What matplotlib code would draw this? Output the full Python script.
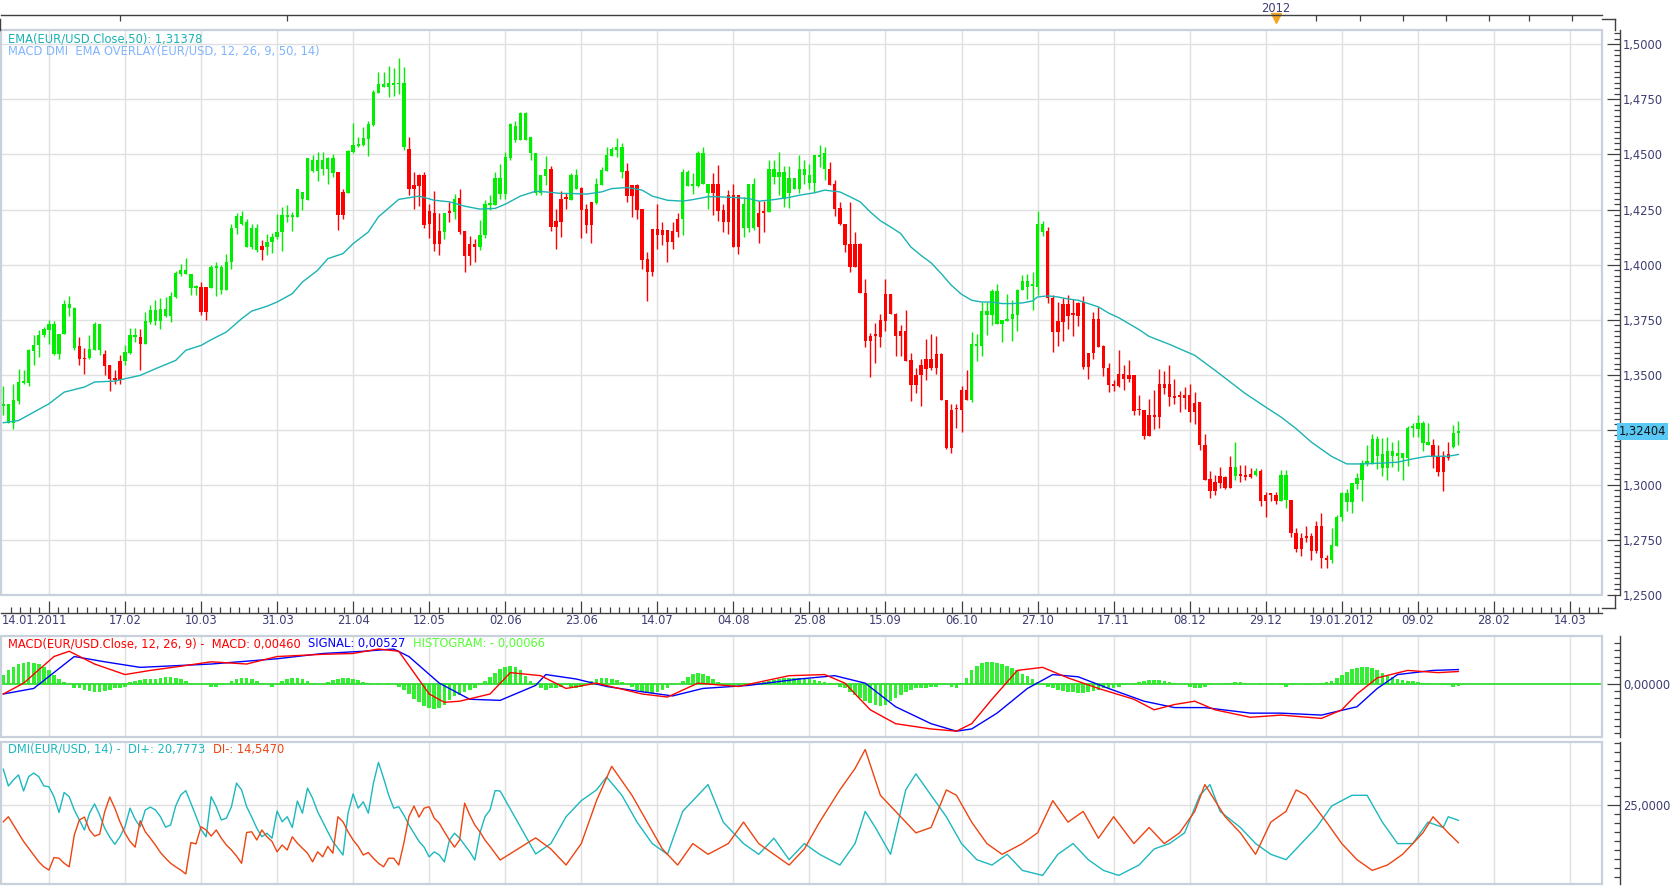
import matplotlib
matplotlib.use("Agg")
import matplotlib.pyplot as plt
from matplotlib.lines import Line2D
from matplotlib.patches import Rectangle
from matplotlib.ticker import FixedLocator, FuncFormatter, MultipleLocator
import numpy as np

# EUR/USD daily candles, 14.01.2011 .. 17.02.2012
opens = [
    1.3358, 1.3282, 1.3280, 1.3380, 1.3464, 1.3464, 1.3608, 1.3633, 1.3679, 1.3703,
    1.3595, 1.3595, 1.3686, 1.3805, 1.3623, 1.3629, 1.3577, 1.3577, 1.3614, 1.3614,
    1.3595, 1.3542, 1.3483, 1.3562, 1.3562, 1.3598, 1.3671, 1.3671, 1.3638, 1.3739,
    1.3744, 1.3744, 1.3765, 1.3765, 1.3853, 1.3956, 1.3956, 1.3895, 1.3895, 1.3898,
    1.3898, 1.3895, 1.3986, 1.3886, 1.3886, 1.4012, 1.4164, 1.4186, 1.4080, 1.4080,
    1.4065, 1.4083, 1.4080, 1.4103, 1.4123, 1.4148, 1.4217, 1.4217, 1.4217, 1.4300,
    1.4295, 1.4426, 1.4426, 1.4432, 1.4432, 1.4417, 1.4420, 1.4330, 1.4326, 1.4509,
    1.4538, 1.4542, 1.4568, 1.4633, 1.4780, 1.4807, 1.4807, 1.4815, 1.4818, 1.4532,
    1.4527, 1.4360, 1.4406, 1.4406, 1.4244, 1.4236, 1.4153, 1.4149, 1.4244, 1.4239,
    1.4303, 1.4152, 1.4095, 1.4095, 1.4080, 1.4133, 1.4270, 1.4270, 1.4320, 1.4320,
    1.4485, 1.4565, 1.4565, 1.4565, 1.4505, 1.4326, 1.4326, 1.4403, 1.4433, 1.4197,
    1.4297, 1.4303, 1.4295, 1.4341, 1.4349, 1.4254, 1.4285, 1.4280, 1.4361, 1.4426,
    1.4494, 1.4520, 1.4421, 1.4424, 1.4361, 1.4361, 1.4252, 1.4024, 1.4161, 1.4161,
    1.4156, 1.4156, 1.4152, 1.4206, 1.4205, 1.4358, 1.4358, 1.4358, 1.4364, 1.4327,
    1.4368, 1.4368, 1.4247, 1.4315, 1.4315, 1.4315, 1.4168, 1.4168, 1.4168, 1.4232,
    1.4242, 1.4239, 1.4398, 1.4398, 1.4300, 1.4326, 1.4345, 1.4345, 1.4406, 1.4371,
    1.4371, 1.4489, 1.4433, 1.4436, 1.4365, 1.4255, 1.4186, 1.4092, 1.4092, 1.4092,
    1.3873, 1.3674, 1.3679, 1.3747, 1.3868, 1.3868, 1.3777, 1.3697, 1.3697, 1.3565,
    1.3500, 1.3546, 1.3573, 1.3573, 1.3592, 1.3592, 1.3386, 1.3341, 1.3346, 1.3432,
    1.3432, 1.3386, 1.3630, 1.3630, 1.3770, 1.3770, 1.3729, 1.3729, 1.3744, 1.3752,
    1.3770, 1.3883, 1.3899, 1.3903, 1.3899, 1.4149, 1.4152, 1.3850, 1.3742, 1.3820,
    1.3820, 1.3774, 1.3827, 1.3830, 1.3600, 1.3752, 1.3752, 1.3629, 1.3532, 1.3455,
    1.3505, 1.3505, 1.3497, 1.3497, 1.3341, 1.3338, 1.3315, 1.3315, 1.3456, 1.3456,
    1.3456, 1.3402, 1.3402, 1.3406, 1.3406, 1.3373, 1.3376, 1.3183, 1.3027, 1.3012,
    1.3038, 1.3035, 1.3080, 1.3040, 1.3047, 1.3042, 1.3050, 1.3046, 1.3061, 1.2956,
    1.2956, 1.2956, 1.2926, 1.2932, 1.2932, 1.2782, 1.2759, 1.2768, 1.2768, 1.2811,
    1.2811, 1.2668, 1.2659, 1.2724, 1.2853, 1.2921, 1.2921, 1.3005, 1.3024, 1.3100,
    1.3100, 1.3133, 1.3076, 1.3076, 1.3133, 1.3133, 1.3121, 1.3121, 1.3258, 1.3252,
    1.3189, 1.3179, 1.3183, 1.3129, 1.3126, 1.3138, 1.3171, 1.3236,
]
highs = [
    1.3451, 1.3368, 1.3459, 1.3527, 1.3520, 1.3618, 1.3679, 1.3701, 1.3717, 1.3750,
    1.3744, 1.3686, 1.3841, 1.3856, 1.3808, 1.3671, 1.3623, 1.3682, 1.3739, 1.3729,
    1.3614, 1.3542, 1.3520, 1.3588, 1.3633, 1.3714, 1.3714, 1.3709, 1.3785, 1.3815,
    1.3838, 1.3850, 1.3853, 1.3876, 1.3970, 1.4001, 1.4032, 1.3959, 1.3906, 1.3920,
    1.3898, 1.3997, 1.4012, 1.3997, 1.4050, 1.4183, 1.4232, 1.4242, 1.4209, 1.4186,
    1.4186, 1.4111, 1.4141, 1.4144, 1.4229, 1.4262, 1.4270, 1.4239, 1.4341, 1.4330,
    1.4482, 1.4497, 1.4512, 1.4512, 1.4489, 1.4501, 1.4420, 1.4345, 1.4520, 1.4641,
    1.4580, 1.4623, 1.4653, 1.4792, 1.4876, 1.4876, 1.4901, 1.4891, 1.4936, 1.4898,
    1.4580, 1.4421, 1.4411, 1.4421, 1.4274, 1.4335, 1.4236, 1.4235, 1.4282, 1.4320,
    1.4342, 1.4152, 1.4130, 1.4118, 1.4202, 1.4295, 1.4315, 1.4421, 1.4456, 1.4512,
    1.4641, 1.4653, 1.4694, 1.4694, 1.4580, 1.4507, 1.4406, 1.4492, 1.4447, 1.4254,
    1.4333, 1.4327, 1.4418, 1.4436, 1.4353, 1.4277, 1.4285, 1.4391, 1.4441, 1.4532,
    1.4535, 1.4573, 1.4550, 1.4459, 1.4361, 1.4365, 1.4252, 1.4055, 1.4161, 1.4277,
    1.4194, 1.4156, 1.4194, 1.4232, 1.4432, 1.4429, 1.4414, 1.4517, 1.4535, 1.4368,
    1.4414, 1.4452, 1.4277, 1.4338, 1.4368, 1.4315, 1.4308, 1.4368, 1.4395, 1.4289,
    1.4288, 1.4474, 1.4474, 1.4512, 1.4447, 1.4447, 1.4391, 1.4497, 1.4477, 1.4456,
    1.4497, 1.4542, 1.4535, 1.4467, 1.4383, 1.4285, 1.4186, 1.4285, 1.4149, 1.4098,
    1.3933, 1.3689, 1.3735, 1.3777, 1.3933, 1.3868, 1.3780, 1.3724, 1.3792, 1.3599,
    1.3532, 1.3573, 1.3664, 1.3683, 1.3674, 1.3599, 1.3386, 1.3365, 1.3365, 1.3447,
    1.3523, 1.3694, 1.3683, 1.3830, 1.3830, 1.3891, 1.3911, 1.3747, 1.3865, 1.3838,
    1.3891, 1.3952, 1.3956, 1.3967, 1.4242, 1.4199, 1.4171, 1.3864, 1.3830, 1.3850,
    1.3864, 1.3846, 1.3830, 1.3858, 1.3600, 1.3785, 1.3808, 1.3636, 1.3553, 1.3477,
    1.3611, 1.3543, 1.3565, 1.3497, 1.3406, 1.3338, 1.3391, 1.3432, 1.3527, 1.3517,
    1.3543, 1.3482, 1.3424, 1.3444, 1.3456, 1.3421, 1.3376, 1.3232, 1.3061, 1.3047,
    1.3080, 1.3042, 1.3129, 1.3194, 1.3092, 1.3092, 1.3077, 1.3077, 1.3073, 1.2967,
    1.2962, 1.2967, 1.3068, 1.3068, 1.2932, 1.2805, 1.2782, 1.2815, 1.2782, 1.2838,
    1.2874, 1.2683, 1.2805, 1.2864, 1.2967, 1.2982, 1.3008, 1.3053, 1.3114, 1.3179,
    1.3229, 1.3220, 1.3214, 1.3217, 1.3194, 1.3202, 1.3144, 1.3265, 1.3280, 1.3315,
    1.3289, 1.3280, 1.3209, 1.3183, 1.3156, 1.3194, 1.3270, 1.3288,
]
lows = [
    1.3315, 1.3280, 1.3255, 1.3368, 1.3459, 1.3448, 1.3542, 1.3580, 1.3671, 1.3641,
    1.3588, 1.3570, 1.3683, 1.3765, 1.3614, 1.3542, 1.3505, 1.3573, 1.3611, 1.3588,
    1.3497, 1.3426, 1.3459, 1.3459, 1.3542, 1.3595, 1.3648, 1.3520, 1.3638, 1.3732,
    1.3724, 1.3709, 1.3762, 1.3739, 1.3850, 1.3947, 1.3956, 1.3861, 1.3861, 1.3770,
    1.3750, 1.3895, 1.3856, 1.3865, 1.3886, 1.3982, 1.4141, 1.4179, 1.4080, 1.4073,
    1.4058, 1.4020, 1.4042, 1.4053, 1.4118, 1.4062, 1.4194, 1.4153, 1.4214, 1.4247,
    1.4292, 1.4421, 1.4380, 1.4406, 1.4368, 1.4398, 1.4156, 1.4209, 1.4323, 1.4507,
    1.4535, 1.4538, 1.4492, 1.4629, 1.4777, 1.4807, 1.4759, 1.4765, 1.4774, 1.4520,
    1.4315, 1.4254, 1.4265, 1.4168, 1.4121, 1.4062, 1.4042, 1.4115, 1.4194, 1.4205,
    1.4138, 1.3967, 1.3997, 1.4012, 1.4065, 1.4121, 1.4247, 1.4270, 1.4300, 1.4300,
    1.4474, 1.4558, 1.4565, 1.4565, 1.4474, 1.4315, 1.4315, 1.4361, 1.4153, 1.4070,
    1.4126, 1.4252, 1.4292, 1.4341, 1.4121, 1.4144, 1.4099, 1.4277, 1.4361, 1.4426,
    1.4494, 1.4489, 1.4394, 1.4282, 1.4217, 1.4205, 1.3982, 1.3835, 1.3949, 1.4070,
    1.4091, 1.4012, 1.4073, 1.4126, 1.4133, 1.4358, 1.4320, 1.4350, 1.4364, 1.4252,
    1.4224, 1.4200, 1.4149, 1.4138, 1.4080, 1.4050, 1.4126, 1.4149, 1.4156, 1.4099,
    1.4149, 1.4239, 1.4368, 1.4315, 1.4262, 1.4259, 1.4342, 1.4323, 1.4368, 1.4341,
    1.4330, 1.4444, 1.4383, 1.4361, 1.4221, 1.4179, 1.4058, 1.3967, 1.3989, 1.3871,
    1.3626, 1.3489, 1.3553, 1.3626, 1.3699, 1.3774, 1.3585, 1.3585, 1.3562, 1.3380,
    1.3417, 1.3356, 1.3477, 1.3523, 1.3502, 1.3386, 1.3164, 1.3144, 1.3258, 1.3240,
    1.3386, 1.3376, 1.3562, 1.3583, 1.3679, 1.3724, 1.3729, 1.3649, 1.3744, 1.3653,
    1.3699, 1.3883, 1.3846, 1.3792, 1.3864, 1.4129, 1.3826, 1.3603, 1.3629, 1.3653,
    1.3706, 1.3676, 1.3721, 1.3527, 1.3482, 1.3573, 1.3626, 1.3492, 1.3421, 1.3426,
    1.3444, 1.3429, 1.3467, 1.3315, 1.3315, 1.3206, 1.3221, 1.3255, 1.3259, 1.3414,
    1.3356, 1.3368, 1.3330, 1.3346, 1.3285, 1.3277, 1.3159, 1.3020, 1.2940, 1.2952,
    1.2986, 1.2979, 1.2985, 1.3020, 1.3012, 1.3020, 1.3032, 1.3040, 1.2906, 1.2853,
    1.2929, 1.2911, 1.2926, 1.2896, 1.2765, 1.2694, 1.2676, 1.2740, 1.2659, 1.2689,
    1.2621, 1.2621, 1.2644, 1.2724, 1.2835, 1.2883, 1.2871, 1.2982, 1.2926, 1.3085,
    1.3095, 1.3073, 1.3040, 1.3020, 1.3080, 1.3062, 1.3024, 1.3085, 1.3217, 1.3217,
    1.3153, 1.3179, 1.3076, 1.3040, 1.2971, 1.3114, 1.3167, 1.3183,
]
closes = [
    1.3368, 1.3368, 1.3383, 1.3467, 1.3470, 1.3611, 1.3633, 1.3679, 1.3708, 1.3729,
    1.3729, 1.3686, 1.3823, 1.3823, 1.3805, 1.3570, 1.3570, 1.3618, 1.3732, 1.3729,
    1.3539, 1.3482, 1.3474, 1.3477, 1.3601, 1.3679, 1.3679, 1.3641, 1.3742, 1.3792,
    1.3792, 1.3800, 1.3800, 1.3856, 1.3962, 1.3977, 1.3977, 1.3959, 1.3898, 1.3785,
    1.3785, 1.3989, 1.3989, 1.3989, 1.4012, 1.4164, 1.4220, 1.4220, 1.4194, 1.4168,
    1.4168, 1.4068, 1.4103, 1.4123, 1.4148, 1.4224, 1.4224, 1.4220, 1.4341, 1.4330,
    1.4482, 1.4477, 1.4474, 1.4474, 1.4482, 1.4482, 1.4224, 1.4224, 1.4515, 1.4542,
    1.4547, 1.4573, 1.4638, 1.4785, 1.4820, 1.4820, 1.4823, 1.4823, 1.4823, 1.4823,
    1.4345, 1.4345, 1.4356, 1.4182, 1.4183, 1.4093, 1.4093, 1.4235, 1.4232, 1.4300,
    1.4149, 1.4039, 1.4039, 1.4080, 1.4136, 1.4277, 1.4277, 1.4391, 1.4391, 1.4489,
    1.4636, 1.4629, 1.4689, 1.4689, 1.4580, 1.4507, 1.4406, 1.4433, 1.4171, 1.4171,
    1.4194, 1.4297, 1.4406, 1.4406, 1.4250, 1.4179, 1.4179, 1.4365, 1.4429, 1.4497,
    1.4524, 1.4532, 1.4532, 1.4312, 1.4312, 1.4250, 1.4023, 1.3967, 1.3967, 1.4133,
    1.4133, 1.4103, 1.4103, 1.4149, 1.4421, 1.4421, 1.4368, 1.4508, 1.4508, 1.4365,
    1.4327, 1.4244, 1.4194, 1.4194, 1.4080, 1.4080, 1.4277, 1.4368, 1.4368, 1.4171,
    1.4232, 1.4436, 1.4436, 1.4421, 1.4421, 1.4391, 1.4391, 1.4436, 1.4436, 1.4406,
    1.4497, 1.4497, 1.4505, 1.4361, 1.4252, 1.4183, 1.4088, 1.3989, 1.3989, 1.3871,
    1.3652, 1.3653, 1.3676, 1.3671, 1.3744, 1.3774, 1.3676, 1.3676, 1.3562, 1.3452,
    1.3452, 1.3497, 1.3524, 1.3532, 1.3532, 1.3386, 1.3168, 1.3168, 1.3343, 1.3341,
    1.3386, 1.3638, 1.3638, 1.3788, 1.3788, 1.3879, 1.3879, 1.3747, 1.3755, 1.3774,
    1.3886, 1.3924, 1.3924, 1.3906, 1.4183, 1.4183, 1.3850, 1.3694, 1.3694, 1.3739,
    1.3767, 1.3770, 1.3767, 1.3535, 1.3535, 1.3600, 1.3626, 1.3530, 1.3452, 1.3449,
    1.3449, 1.3479, 1.3479, 1.3335, 1.3338, 1.3221, 1.3221, 1.3308, 1.3308, 1.3440,
    1.3399, 1.3396, 1.3399, 1.3394, 1.3330, 1.3330, 1.3182, 1.3023, 1.2971, 1.2971,
    1.3008, 1.2985, 1.2985, 1.3080, 1.3042, 1.3035, 1.3035, 1.3061, 1.2929, 1.2929,
    1.2955, 1.2926, 1.3047, 1.3047, 1.2780, 1.2709, 1.2709, 1.2759, 1.2699, 1.2699,
    1.2667, 1.2659, 1.2729, 1.2856, 1.2962, 1.2962, 1.3008, 1.3030, 1.3100, 1.3106,
    1.3209, 1.3209, 1.3138, 1.3156, 1.3156, 1.3145, 1.3144, 1.3258, 1.3262, 1.3280,
    1.3280, 1.3194, 1.3126, 1.3058, 1.3058, 1.3121, 1.3236, 1.3240,
]

# EMA(50) overlay, sampled along the line (candle index, price)
ema_idx = [0, 3, 6, 9, 12, 16, 18, 22, 24, 27, 30, 34, 36, 39, 41, 44, 47, 49, 52, 54,
           57, 59, 62, 64, 67, 69, 72, 74, 78, 82, 85, 88, 91, 94, 97, 99, 102, 105, 107, 110,
           112, 115, 118, 120, 123, 126, 128, 131, 134, 136, 139, 141, 144, 147, 149, 152, 155, 157, 160,
           162, 165, 167, 169, 171, 173, 175, 177, 179, 181, 183, 185, 187, 189, 191, 193, 195, 197, 199,
           201, 203, 204, 206, 208, 210, 212, 214, 216, 218, 220, 222, 224, 226, 228, 230, 232,
           235, 239, 242, 245, 249, 252, 255, 258, 262, 265, 268, 272, 275, 278, 281, 285, 287]
ema_val = [1.3282, 1.3292, 1.3330, 1.3368, 1.3421, 1.3444, 1.3467, 1.3471, 1.3482, 1.3497,
           1.3527, 1.3565, 1.3611, 1.3633, 1.3659, 1.3694, 1.3754, 1.3789, 1.3811, 1.3830,
           1.3868, 1.3921, 1.3974, 1.4027, 1.4050, 1.4095, 1.4148, 1.4217, 1.4296, 1.4311,
           1.4292, 1.4285, 1.4265, 1.4252, 1.4255, 1.4274, 1.4311, 1.4333, 1.4330, 1.4323,
           1.4323, 1.4320, 1.4330, 1.4345, 1.4350, 1.4338, 1.4311, 1.4292, 1.4288, 1.4295,
           1.4308, 1.4308, 1.4305, 1.4300, 1.4288, 1.4295, 1.4305, 1.4315, 1.4326,
           1.4338, 1.4330, 1.4308, 1.4285, 1.4239, 1.4199, 1.4171, 1.4141, 1.4080, 1.4042,
           1.4008, 1.3959, 1.3906, 1.3865, 1.3838, 1.3830, 1.3830, 1.3823, 1.3823, 1.3826,
           1.3835, 1.3853, 1.3858, 1.3853, 1.3844, 1.3838, 1.3823, 1.3808, 1.3780, 1.3759,
           1.3732, 1.3705, 1.3674, 1.3656, 1.3638, 1.3618,
           1.3588, 1.3520, 1.3467, 1.3414, 1.3353, 1.3308, 1.3255, 1.3194, 1.3129, 1.3095,
           1.3095, 1.3099, 1.3103, 1.3118, 1.3130, 1.3130, 1.3138]

# MACD(12,26,9), in units of 1e-4
macd_idx = [0, 4, 10, 13, 18, 24, 29, 35, 41, 48, 54, 63, 69, 74, 78, 84, 87, 90, 96, 100,
            106, 111, 117, 126, 131, 137, 145, 155, 162, 166, 171, 176, 183, 188, 191, 195, 200, 205, 210, 216,
            223, 227, 231, 235, 239, 246, 252, 260, 264, 267, 271, 277, 283, 287]
macd_val = [-35, 4, 100, 119, 73, 35, 50, 65, 81, 73, 100, 108, 111, 127, 119, -35, -65, -61, -35, 42,
            31, -15, 4, -35, -46, 4, -8, 31, 35, 4, -92, -142, -161, -169, -142, -54, 50, 61, 23, -15,
            -54, -92, -73, -61, -92, -119, -111, -123, -92, -35, 23, 50, 42, 46]
signal_idx = [0, 6, 14, 20, 27, 41, 54, 63, 71, 77, 80, 86, 92, 98, 105, 107, 113, 119, 126, 132,
              138, 147, 157, 164, 170, 176, 183, 188, 191, 196, 202, 207, 212, 218, 225, 231, 237, 246, 252, 260,
              267, 271, 275, 282, 287]
signal_val = [-35, -15, 100, 81, 61, 73, 92, 111, 119, 127, 100, 4, -54, -58, -4, 35, 19, -8, -27, -42,
              -15, -4, 19, 31, 4, -81, -142, -169, -161, -104, -15, 35, 27, -15, -61, -84, -84, -104, -104, -111,
              -81, -15, 35, 50, 53]
histogram = [35, 50, 61, 73, 77, 81, 77, 73, 61, 50, 35, 19, 8, 0,
             -12, -15, -19, -23, -27, -27, -23, -19, -15, -12, -8,
             8, 12, 15, 19, 19, 19, 23, 27, 27, 23, 19, 12, 4, 0, 0, 0,
             -8, -8, -4, 0, 12, 19, 23, 23, 19, 12, 4, 0, -8, -4,
             12, 19, 23, 23, 19, 12, 4, 0, 0,
             8, 15, 19, 23, 23, 19, 15, 8, 4, 0,
             -4, 0, 4, 0, -8, -19,
             -35, -54, -65, -77, -84, -88, -84, -73, -58, -42, -38, -27, -19, -12, -4,
             12, 27, 42, 54, 61, 65, 61, 50, 31, 12,
             -4, -15, -19, -15, -12, -8, -4, -8, -12, -8, 0,
             12, 19, 23, 23, 19, 15, 8, 0, -8, -19,
             -27, -31, -31, -27, -19, -12, -4, 0,
             12, 27, 38, 42, 38, 31, 19, 8, 0,
             -4, -8, -4, 0, 0, 4, 4, 8, 12,
             15, 19, 23, 23, 23, 23, 19, 19, 15, 12, 8, 4, 0,
             -8, -15, -27, -38, -50, -61, -69, -73, -77, -73, -61, -50, -38, -27,
             -19, -15, -12, -12, -8, -8, -4, -4, -8, -12,
             4, 23, 50, 65, 77, 81, 81, 77, 73, 65, 58, 50, 38,
             31, 19, 8, 0, -8, -15, -19, -23,
             -27, -27, -31, -31, -27, -23, -19, -15, -15, -12, -8, -4, 0,
             4, 8, 12, 15, 15, 15, 12, 8,
             4, 0, -4, -8, -12, -12, -8, -4, 0, 0, 4,
             4, 8, 8, 4, 0, 0, -4, 0, 4, 0,
             -4, -8, -4, 0, 0, -4, -4, 0, 4, 8, 12,
             23, 35, 46, 54, 58, 61, 61, 58, 50, 42, 35, 27, 19,
             15, 12, 12, 8, 4, 4, 0, 0, -4, -4, -8, -7]

# DMI(14)
di_plus = [35.1, 30.4, 32.1, 33.5, 29.0, 33.0, 34.0, 33.0, 30.4, 30.2,
           27.4, 23.0, 28.6, 27.4, 23.7, 20.9, 18.1, 22.8, 25.4, 22.3,
           18.6, 16.1, 14.1, 16.2, 19.0, 24.2, 21.1, 19.0, 23.7, 24.5,
           23.7, 21.8, 18.9, 19.5, 24.8, 27.9, 29.1, 25.6, 22.0, 18.3,
           16.2, 27.4, 24.6, 20.9, 21.4, 24.6, 31.2, 29.3, 24.6, 21.7,
           18.6, 16.2, 17.2, 15.8, 23.4, 20.4, 21.8, 18.8, 26.2, 22.8,
           29.8, 27.0, 23.2, 20.4, 17.6, 14.9, 13.0, 11.1, 22.8, 28.2,
           24.2, 26.0, 22.8, 31.2, 37.0, 32.6, 27.9, 24.2, 24.6, 22.3,
           19.5, 17.2, 14.9, 13.3, 10.6, 12.0, 11.1, 9.2, 15.3, 17.2,
           15.8, 13.9, 12.0, 9.7, 17.2, 21.8, 23.7, 29.1, 29.0,
           11.4, 14.3, 21.8, 26.3, 29.3, 32.9, 27.8, 20.3, 14.3, 11.3,
           23.3, 27.8, 30.8, 20.3, 14.3, 11.3, 15.8, 9.8, 14.3, 11.3,
           8.3, 14.3, 23.3, 18.8, 11.3, 29.3, 33.8, 27.8, 21.8, 14.3,
           9.8, 8.3, 11.3, 6.8, 5.4, 11.3, 14.3, 9.8, 6.8, 5.4,
           8.3, 12.8, 14.3, 17.3, 27.8, 30.8, 23.3, 18.8, 14.3, 11.3,
           9.8, 14.3, 18.8, 24.8, 27.8, 27.8, 20.3, 14.3, 14.3, 20.3,
           18.8, 21.8, 20.8]
di_plus_idx = list(range(99)) + [
    105, 108, 111, 114, 117, 119, 122, 125, 128, 131,
    134, 137, 139, 142, 146, 149, 152, 155, 158, 161,
    165, 168, 170, 172, 175, 178, 180, 183, 186, 189,
    192, 195, 198, 201, 205, 208, 211, 214, 217, 220,
    224, 227, 230, 233, 236, 238, 240, 244, 247, 250,
    253, 256, 259, 262, 266, 269, 272, 275, 278, 281,
    284, 285, 287]
di_minus = [20.4, 21.8, 19.5, 17.2, 14.9, 13.0, 11.1, 9.2, 7.8, 6.9,
            10.4, 10.2, 8.8, 7.8, 16.7, 20.9, 21.7, 18.1, 16.4, 16.9,
            23.2, 27.3, 24.2, 20.4, 17.2, 14.9, 13.3, 20.7, 17.6, 15.8,
            13.9, 11.8, 10.2, 8.8, 7.8, 6.9, 5.8, 14.6, 14.2, 19.0,
            18.1, 16.4, 18.1, 15.8, 13.9, 12.5, 10.8, 8.8, 17.4, 17.6,
            15.3, 18.1, 16.2, 14.9, 12.0, 13.9, 12.5, 16.2, 14.4, 13.0,
            11.6, 9.2, 12.0, 10.6, 13.5, 11.6, 21.8, 20.4, 17.6, 15.3,
            13.5, 11.1, 11.8, 10.2, 8.8, 7.8, 10.2, 10.2, 8.3, 14.4,
            21.8, 24.8, 21.7, 24.2, 24.6, 21.4, 20.0, 17.6, 15.3, 13.3,
            15.3, 25.6, 22.3, 19.5, 17.6, 15.3, 13.5, 11.6, 9.7,
            15.9, 12.8, 8.3, 14.3, 26.3, 35.9, 27.8, 20.3, 12.8, 8.3,
            14.3, 11.3, 14.3, 20.3, 14.3, 11.3, 8.3, 12.8, 20.3, 29.3,
            35.3, 40.6, 27.8, 23.3, 17.3, 18.8, 29.3, 27.8, 20.3, 14.3,
            11.3, 14.3, 17.3, 26.3, 20.3, 23.3, 15.8, 21.8, 14.3, 18.8,
            14.3, 17.3, 23.3, 30.8, 21.8, 17.3, 11.3, 20.3, 23.3, 29.3,
            27.8, 20.3, 14.3, 9.8, 6.8, 8.3, 11.3, 17.3, 21.8, 18.8,
            17.3, 14.55]
di_minus_idx = list(range(99)) + [
    105, 108, 111, 114, 117, 120, 124, 127, 130, 133,
    136, 139, 143, 146, 149, 152, 155, 158, 161, 165,
    168, 170, 173, 176, 180, 183, 186, 188, 191, 194,
    197, 201, 204, 207, 210, 213, 216, 219, 223, 226,
    229, 232, 235, 237, 241, 244, 247, 250, 253, 255,
    257, 261, 264, 267, 270, 273, 276, 280, 282, 284,
    285, 287]

# date axis
date_ticks = [24, 39, 54, 69, 84, 99, 114, 129, 144, 159, 174, 189, 204, 219, 234, 249, 264, 279, 294, 309]
date_labels = ["17.02", "10.03", "31.03", "21.04", "12.05", "02.06", "23.06", "14.07", "04.08", "25.08",
               "15.09", "06.10", "27.10", "17.11", "08.12", "29.12", "19.01.2012", "09.02", "28.02", "14.03"]
top_ticks = [23, 56, 259, 267.5, 276, 284.5, 293, 301, 309.5]
year_idx = 251
last_price = 1.32404

# ---------------------------------------------------------------- layout
W, H = 1674, 886
fig = plt.figure(figsize=(W / 100, H / 100), dpi=100)
fig.patch.set_facecolor("white")
plt.rcParams["font.family"] = ["DejaVu Sans"]

def fx(px):
    return px / W

def fy(py):
    return 1 - py / H

XL, XR = 1, 1602
ax_p = fig.add_axes([fx(XL), fy(595), fx(XR - XL), (595 - 30) / H])
ax_m = fig.add_axes([fx(XL), fy(737), fx(XR - XL), (737 - 636) / H])
ax_d = fig.add_axes([fx(XL), fy(884), fx(XR - XL), (884 - 742) / H])

xlo, xhi = (XL - 3.3) / 5.07, (XR - 3.3) / 5.07
major_x = np.arange(9, 316, 15)
minor_x = np.arange(9 - 1.875 * 4, 316, 1.875)

AXC = "#404040"
LBL = "#3d3d72"
GRID = "#e0e0e0"
BORDER = "#c8d0dc"
FS = 8.3


def comma(fmt):
    return FuncFormatter(lambda v, p: fmt.format(v).replace(".", ","))


def style(ax):
    ax.set_xlim(xlo, xhi)
    for s in ("left", "top", "bottom"):
        ax.spines[s].set_visible(False)
    ax.spines["right"].set_position(("outward", 13))
    ax.spines["right"].set_color(AXC)
    ax.spines["right"].set_linewidth(1.0)
    ax.yaxis.tick_right()
    ax.tick_params(axis="y", which="both", direction="in", colors=AXC,
                   labelcolor=LBL, labelsize=FS, pad=2)
    ax.tick_params(axis="y", which="major", length=9.4, width=0.9)
    ax.tick_params(axis="y", which="minor", length=4.3, width=0.9)
    ax.xaxis.set_major_locator(FixedLocator(major_x))
    ax.tick_params(axis="x", which="both", bottom=False, top=False, labelbottom=False)
    ax.grid(True, axis="x", color=GRID, lw=1.0, zorder=0)
    ax.set_axisbelow(True)
    ax.add_patch(Rectangle((0, 0), 1, 1, transform=ax.transAxes, fill=False,
                           ec=BORDER, lw=1.6, clip_on=False, zorder=6))


# ---------------------------------------------------------------- price panel
style(ax_p)
ax_p.set_ylim(1.25, 1.5065)
ax_p.yaxis.set_major_locator(MultipleLocator(0.025))
ax_p.yaxis.set_minor_locator(MultipleLocator(0.0025))
# the last-price tag hides the axis label it sits on
ax_p.yaxis.set_major_formatter(FuncFormatter(
    lambda v, p: "" if abs(v - last_price) < 0.006 else f"{v:.4f}".replace(".", ",")))
ax_p.grid(True, axis="y", color=GRID, lw=1.0, zorder=0)

x = np.arange(len(closes))
o = np.array(opens)
c = np.array(closes)
up = c >= o
cols = np.where(up, "#00ee00", "#ff0000")
ax_p.vlines(x, lows, highs, colors=cols, lw=1.0, zorder=3)
bottom = np.minimum(o, c)
height = np.maximum(np.abs(c - o), 0.0008)
ax_p.bar(x, height, width=0.66, bottom=bottom, color=cols, lw=0, zorder=4)
ax_p.plot(ema_idx, ema_val, color="#1ab3b3", lw=1.0, zorder=5)

# bottom date axis
ax_p.spines["bottom"].set_visible(True)
ax_p.spines["bottom"].set_position(("outward", 13))
ax_p.spines["bottom"].set_color(AXC)
ax_p.spines["bottom"].set_linewidth(1.0)
ax_p.tick_params(axis="x", which="major", bottom=True, direction="in", length=9, width=0.9, colors=AXC)
ax_p.xaxis.set_minor_locator(FixedLocator(minor_x))
ax_p.tick_params(axis="x", which="minor", bottom=True, direction="in", length=4, width=0.9, colors=AXC)
xt = ax_p.get_xaxis_transform()
lab_y = -(621 - 595) / 565
for t, s in zip(date_ticks, date_labels):
    ax_p.text(t, lab_y, s, transform=xt, ha="center", va="center", fontsize=FS, color=LBL)
ax_p.text(xlo + 0.25, lab_y, "14.01.2011", transform=xt, ha="left", va="center", fontsize=FS, color=LBL)

# top axis with the year marker
ax_t = ax_p.twiny()
ax_t.set_xlim(xlo, xhi)
for s in ("left", "right", "bottom"):
    ax_t.spines[s].set_visible(False)
ax_t.spines["top"].set_position(("outward", 11))
ax_t.spines["top"].set_color(AXC)
ax_t.spines["top"].set_linewidth(1.0)
ax_t.xaxis.set_major_locator(FixedLocator(top_ticks))
ax_t.tick_params(axis="x", which="major", top=True, direction="in", length=4, width=0.9,
                 colors=AXC, labeltop=False)
ax_t.yaxis.set_visible(False)
tt = ax_p.get_xaxis_transform()
ax_p.text(year_idx, 1 + 21 / 565, "2012", transform=tt, ha="center", va="center",
          fontsize=FS, color=LBL, clip_on=False)
ax_p.plot([year_idx], [1 + 12.5 / 565], marker="v", ms=7, color="#f5a623", mec="#f5a623",
          transform=tt, clip_on=False, zorder=8)

# current price tag
ax_p.annotate("1,32404", xy=(1, last_price), xycoords=("axes fraction", "data"),
              xytext=(17, 0), textcoords="offset pixels", ha="left", va="center",
              fontsize=FS, color="#111111",
              bbox=dict(boxstyle="square,pad=0.18", fc="#5ac8f5", ec="none"),
              annotation_clip=False, zorder=9)

# joins of the outer axis lines
fig.add_artist(Line2D([fx(XR), fx(1615)], [fy(19), fy(19)], color=AXC, lw=1.0))
fig.add_artist(Line2D([fx(1615), fx(1615)], [fy(19), fy(30)], color=AXC, lw=1.0))
fig.add_artist(Line2D([fx(1615), fx(1615)], [fy(595), fy(608)], color=AXC, lw=1.0))
fig.add_artist(Line2D([fx(XR), fx(1615)], [fy(608), fy(608)], color=AXC, lw=1.0))
fig.add_artist(Line2D([fx(0.5), fx(0.5)], [fy(19), fy(30)], color=AXC, lw=1.0))

# ---------------------------------------------------------------- MACD panel
style(ax_m)
ax_m.set_ylim(-190, 174)
ax_m.yaxis.set_major_locator(FixedLocator([0]))
ax_m.yaxis.set_minor_locator(MultipleLocator(25))
ax_m.yaxis.set_major_formatter(FuncFormatter(lambda v, p: f"{v * 1e-4:.5f}".replace(".", ",")))
hx = np.arange(len(histogram))
ax_m.bar(hx, histogram, width=0.72, color="#33ee33", lw=0, zorder=2)
ax_m.axhline(0, color="#33dd33", lw=1.3, zorder=2)
ax_m.plot(signal_idx, signal_val, color="#0000ff", lw=1.0, zorder=3)
ax_m.plot(macd_idx, macd_val, color="#ff0000", lw=1.0, zorder=4)

# ---------------------------------------------------------------- DMI panel
style(ax_d)
ax_d.set_ylim(3.0, 42.7)
ax_d.yaxis.set_major_locator(FixedLocator([25]))
ax_d.yaxis.set_minor_locator(MultipleLocator(2.5))
ax_d.yaxis.set_major_formatter(comma("{:.4f}"))
ax_d.grid(True, axis="y", color=GRID, lw=1.0, zorder=0)
ax_d.plot(di_plus_idx, di_plus, color="#1cb8bf", lw=1.0, zorder=3)
ax_d.plot(di_minus_idx, di_minus, color="#ee4411", lw=1.0, zorder=4)

# ---------------------------------------------------------------- legends
renderer = fig.canvas.get_renderer()


def chain(px, py, parts):
    xx = fx(px)
    for s, col in parts:
        t = fig.text(xx, fy(py), s, color=col, fontsize=FS, ha="left", va="center", zorder=10)
        bb = t.get_window_extent(renderer)
        xx = bb.x1 / W


chain(8.5, 38.5, [("EMA(EUR/USD.Close,50): 1,31378", "#1ab3b3")])
chain(8.5, 51, [("MACD DMI  EMA OVERLAY(EUR/USD, 12, 26, 9, 50, 14)", "#80b4ff")])
chain(8.5, 644, [("MACD(EUR/USD.Close, 12, 26, 9) -  MACD: 0,00460  ", "#ff0000"),
                 ("SIGNAL: 0,00527  ", "#0000ff"),
                 ("HISTOGRAM: - 0,00066", "#55ff33")])
chain(8.5, 749.5, [("DMI(EUR/USD, 14) -  DI+: 20,7773  ", "#1cb8bf"),
                   ("DI-: 14,5470", "#ee4411")])

fig.savefig("out.png", dpi=100, facecolor="white")
